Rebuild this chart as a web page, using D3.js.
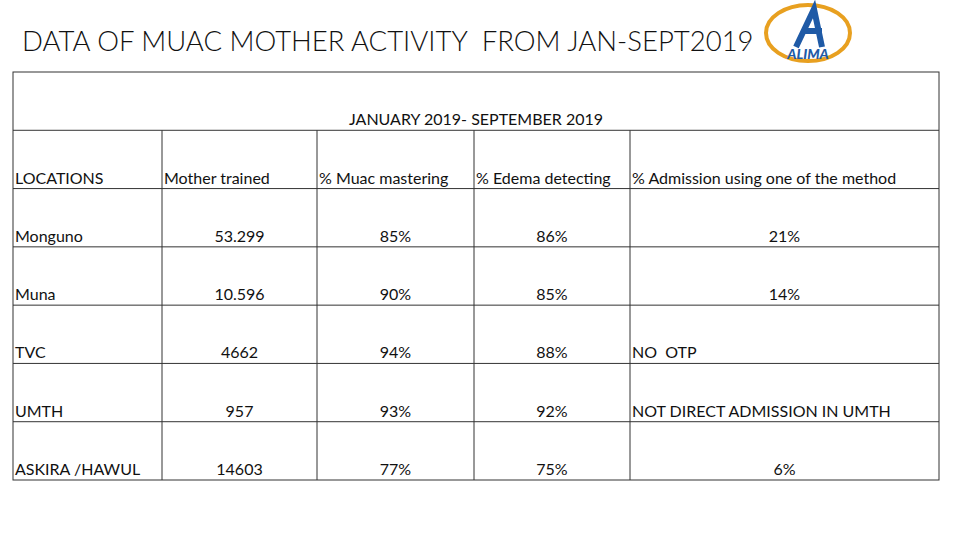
<!DOCTYPE html>
<html><head><meta charset="utf-8">
<script src="https://cdn.jsdelivr.net/npm/d3@7"></script>
<style>body{margin:0;background:#fff}</style></head>
<body><svg id="c" width="960" height="540"></svg>
<script>
const title = "DATA OF MUAC MOTHER ACTIVITY  FROM JAN-SEPT2019";
const period = "JANUARY 2019- SEPTEMBER 2019";
const headers = ["LOCATIONS","Mother trained","% Muac mastering","% Edema detecting","% Admission using one of the method"];
const locations = ["Monguno","Muna","TVC","UMTH","ASKIRA /HAWUL"];
const motherTrained = ["53.299","10.596","4662","957","14603"];
const muacMastering = ["85%","90%","94%","93%","77%"];
const edemaDetecting = ["86%","85%","88%","92%","75%"];
const admission = ["21%","14%","NO  OTP","NOT DIRECT ADMISSION IN UMTH","6%"];

const svg = d3.select("#c");
const font = "Lato, 'Open Sans', sans-serif";
svg.append("text").attr("x",22).attr("y",51).attr("font-family",font).attr("font-weight",300)
  .attr("font-size",27.5).attr("fill","#111").attr("xml:space","preserve").text(title);

// logo
const lg = svg.append("g").attr("transform","translate(808,33)");
lg.append("ellipse").attr("rx",42).attr("ry",28).attr("fill","none").attr("stroke","#e8a020").attr("stroke-width",4);
lg.append("path").attr("d","M-12,14 L6,-24 L14,14 M-4,-2 L14,-2").attr("fill","none").attr("stroke","#1f5aa6").attr("stroke-width",6);
lg.append("text").attr("x",0).attr("y",26).attr("text-anchor","middle").attr("font-family",font).attr("font-weight",900)
  .attr("font-size",14).attr("fill","#1f5aa6").attr("font-style","italic").text("ALIMA");

const colEdges = [13,162,317,474,630,939];
const y = d3.scaleBand().domain(d3.range(7)).range([72,480]).paddingInner(0).paddingOuter(0);
const g = svg.append("g").attr("font-family",font).attr("font-size",16).attr("fill","#111");
g.append("rect").attr("x",13).attr("y",72).attr("width",926).attr("height",408).attr("fill","none").attr("stroke","#333").attr("stroke-width",1);
d3.range(1,7).forEach(i=>g.append("line").attr("x1",13).attr("x2",939).attr("y1",y(i)).attr("y2",y(i)).attr("stroke","#333"));
colEdges.slice(1,5).forEach(x=>g.append("line").attr("x1",x).attr("x2",x).attr("y1",y(1)).attr("y2",480).attr("stroke","#333"));
g.append("text").attr("x",476).attr("y",y(0)+y.bandwidth()-5).attr("text-anchor","middle").text(period);
headers.forEach((h,i)=>g.append("text").attr("x",colEdges[i]+2).attr("y",y(1)+y.bandwidth()-5).text(h));
const cols = [locations,motherTrained,muacMastering,edemaDetecting,admission];
locations.forEach((_,r)=>{
  cols.forEach((arr,c)=>{
    const v = arr[r];
    const left = c===0 || (c===4 && /[A-Z]/.test(v));
    g.append("text").attr("x",left?colEdges[c]+2:(colEdges[c]+colEdges[c+1])/2).attr("xml:space","preserve")
      .attr("text-anchor",left?"start":"middle").attr("y",y(r+2)+y.bandwidth()-5).text(v);
  });
});
</script></body></html>
